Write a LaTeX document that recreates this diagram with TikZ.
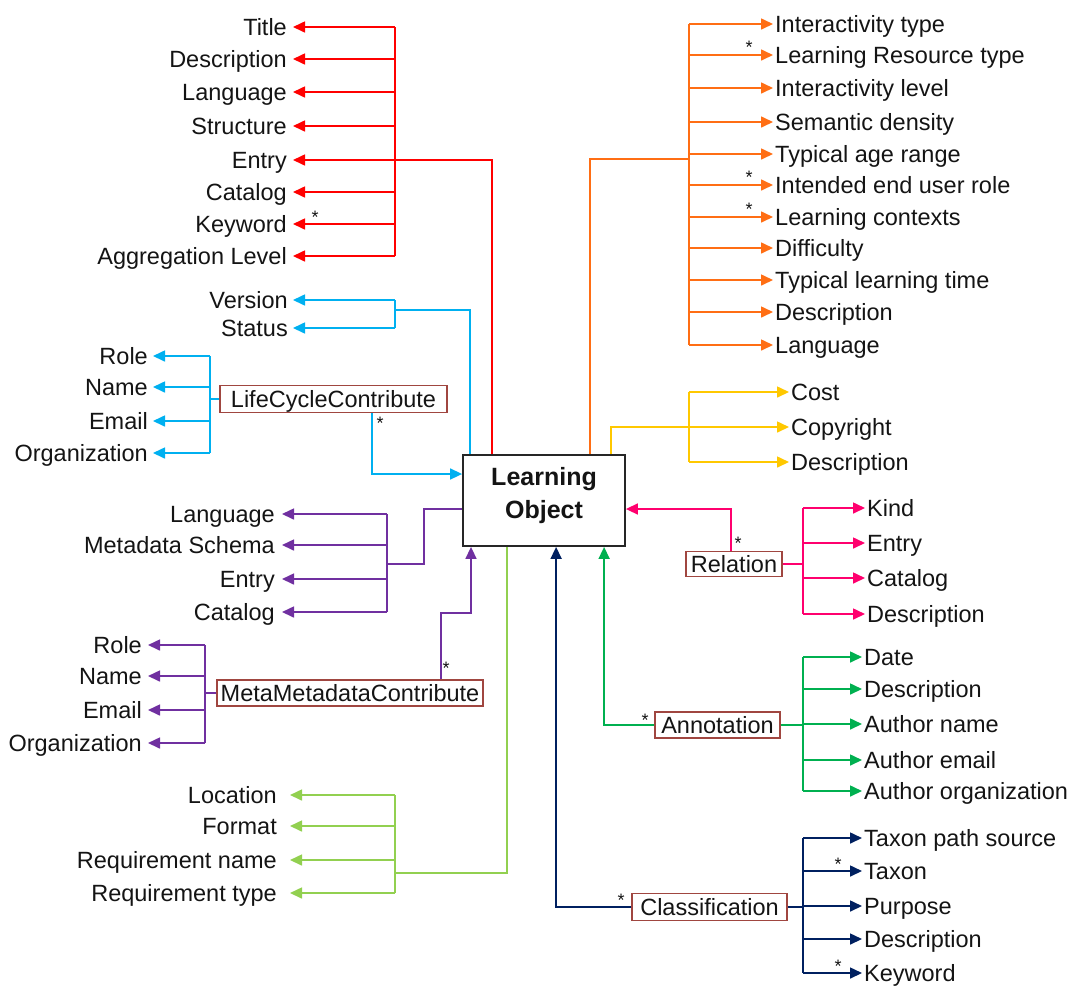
\documentclass[tikz,border=0pt]{standalone}
\usepackage{fontspec}
\setmainfont{Liberation Sans}
\usetikzlibrary{arrows.meta}
\definecolor{cRed}{RGB}{255,0,0}
\definecolor{cSky}{RGB}{0,176,240}
\definecolor{cOrange}{RGB}{255,110,20}
\definecolor{cGold}{RGB}{255,200,0}
\definecolor{cPink}{RGB}{255,0,110}
\definecolor{cGreen}{RGB}{0,176,80}
\definecolor{cNavy}{RGB}{0,32,96}
\definecolor{cPurple}{RGB}{112,48,160}
\definecolor{cLime}{RGB}{146,208,80}
\definecolor{cBox}{RGB}{160,70,64}
\definecolor{cText}{RGB}{20,20,20}
\newcommand\labelfont{\fontsize{23.5}{28}\selectfont}
\tikzset{
  wire/.style={line width=1.6pt},
  tip/.style={wire, -{Triangle[length=12pt,width=11pt]}},
  lab/.style={font=\labelfont, text=cText, inner ysep=0pt, text height=16.8pt, text depth=0pt},
  labl/.style={lab, anchor=east, inner xsep=#1},
  labl/.default=6pt,
  labr/.style={lab, anchor=west, inner xsep=2pt},
  classbox/.style={lab, draw=cBox, line width=1.5pt, inner xsep=0pt},
  mult/.style={font=\fontsize{18}{18}\selectfont, text=cText, inner sep=0pt, anchor=base},
}
\begin{document}
\begin{tikzpicture}[x=1pt,y=-1pt]
\useasboundingbox (0,0) rectangle (1075,986);

% central element
\node[draw=black!85, line width=1.8pt, minimum width=162pt, minimum height=91pt,
      label={[align=center, text=cText, yshift=5pt, font=\bfseries\fontsize{25}{32.5}\selectfont]center:{Learning\\Object}}]
  (lo) at (544,500.5) {};

% ---------- General (red) ----------
\coordinate (redbus) at (395,160);
\foreach \i/\t/\y in {1/Title/27,2/Description/59,3/Language/92,4/Structure/126,
                      5/Entry/160,6/Catalog/192,7/Keyword/224,8/Aggregation Level/256}{
  \node[labl] (gen\i) at (293,\y) {\t};
  \draw[tip,cRed] (redbus |- gen\i.east) -- (gen\i.east);
}
\draw[wire,cRed] (redbus |- gen1.east) -- (redbus |- gen8.east);
\draw[wire,cRed] ([xshift=30pt]lo.north west) |- (redbus);
\node[mult] (sKw) at (315,223.5) {*};

% ---------- Life cycle (sky blue) ----------
\coordinate (lcbus) at (395,310);
\foreach \i/\t/\y in {1/Version/300,2/Status/328}{
  \node[labl=5pt] (lc\i) at (293,\y) {\t};
  \draw[tip,cSky] (lcbus |- lc\i.east) -- (lc\i.east);
}
\draw[wire,cSky] (lcbus |- lc1.east) -- (lcbus |- lc2.east);
\draw[wire,cSky] ([xshift=8pt]lo.north west) |- (lcbus);

\node[classbox, minimum width=227pt, minimum height=27pt] (lcc) at (333.5,399) {LifeCycleContribute};
\coordinate (lccbus) at (210,399);
\foreach \i/\t/\y in {1/Role/356,2/Name/387,3/Email/421,4/Organization/453}{
  \node[labl=5pt] (lcp\i) at (153,\y) {\t};
  \draw[tip,cSky] (lccbus |- lcp\i.east) -- (lcp\i.east);
}
\draw[wire,cSky] (lccbus |- lcp1.east) -- (lccbus |- lcp4.east);
\draw[wire,cSky] (lcc.west) -- (lccbus);
\draw[tip,cSky] ([xshift=38.5pt]lcc.south) |- (lo.west |- 0,474);
\node[mult] (sLcc) at (380,429.5) {*};

% ---------- Meta-metadata (purple) ----------
\coordinate (metabus) at (387,564);
\foreach \i/\t/\y in {1/Language/514,2/Metadata Schema/545,3/Entry/579,4/Catalog/612}{
  \node[labl=7pt] (mm\i) at (282,\y) {\t};
  \draw[tip,cPurple] (metabus |- mm\i.east) -- (mm\i.east);
}
\draw[wire,cPurple] (metabus |- mm1.east) -- (metabus |- mm4.east);
\draw[wire,cPurple] (metabus) -| (424,509) -- (lo.west |- 0,509);

\node[classbox, minimum width=266pt, minimum height=26pt] (mmc) at (350,693) {MetaMetadataContribute};
\coordinate (mmcbus) at (205,693);
\foreach \i/\t/\y in {1/Role/645,2/Name/676,3/Email/710,4/Organization/743}{
  \node[labl=6pt] (mmp\i) at (148,\y) {\t};
  \draw[tip,cPurple] (mmcbus |- mmp\i.east) -- (mmp\i.east);
}
\draw[wire,cPurple] (mmcbus |- mmp1.east) -- (mmcbus |- mmp4.east);
\draw[wire,cPurple] (mmc.west) -- (mmcbus);
\draw[tip,cPurple] ([xshift=91pt]mmc.north) |- (471,613) -- (lo.south -| 471,0);
\node[mult] (sMmc) at (446,674.5) {*};

% ---------- Technical (light green) ----------
\coordinate (techbus) at (395,873);
\foreach \i/\t/\y in {1/Location/795,2/Format/826,3/Requirement name/860,4/Requirement type/893}{
  \node[labl=13pt] (tc\i) at (290,\y) {\t};
  \draw[tip,cLime] (techbus |- tc\i.east) -- (tc\i.east);
}
\draw[wire,cLime] (techbus |- tc1.east) -- (techbus |- tc4.east);
\draw[wire,cLime] (techbus) -| ([xshift=45pt]lo.south west);

% ---------- Educational (orange) ----------
\coordinate (edubus) at (689,159);
\foreach \i/\t/\y in {1/Interactivity type/24,2/Learning Resource type/55,3/Interactivity level/88,
                      4/Semantic density/122,5/Typical age range/154,6/Intended end user role/185,
                      7/Learning contexts/217,8/Difficulty/248,9/Typical learning time/280,
                      10/Description/312,11/Language/345}{
  \node[labr] (ed\i) at (773,\y) {\t};
  \draw[tip,cOrange] (edubus |- ed\i.west) -- (ed\i.west);
}
\draw[wire,cOrange] (edubus |- ed1.west) -- (edubus |- ed11.west);
\draw[wire,cOrange] ([xshift=128pt]lo.north west) |- (edubus);
\node[mult] (sLrt) at (749,53.5) {*};
\node[mult] (sIeur) at (749,183.5) {*};
\node[mult] (sLc) at (749,215.5) {*};

% ---------- Rights (gold) ----------
\coordinate (rightsbus) at (689,427);
\foreach \i/\t/\y in {1/Cost/392,2/Copyright/427,3/Description/462}{
  \node[labr] (rt\i) at (789,\y) {\t};
  \draw[tip,cGold] (rightsbus |- rt\i.west) -- (rt\i.west);
}
\draw[wire,cGold] (rightsbus |- rt1.west) -- (rightsbus |- rt3.west);
\draw[wire,cGold] ([xshift=149pt]lo.north west) |- (rightsbus);

% ---------- Relation (pink) ----------
\node[classbox, minimum width=96pt, minimum height=25pt] (rel) at (734,564) {Relation};
\coordinate (relbus) at (803,564);
\foreach \i/\t/\y in {1/Kind/508,2/Entry/543,3/Catalog/578,4/Description/614}{
  \node[labr] (rl\i) at (865,\y) {\t};
  \draw[tip,cPink] (relbus |- rl\i.west) -- (rl\i.west);
}
\draw[wire,cPink] (relbus |- rl1.west) -- (relbus |- rl4.west);
\draw[wire,cPink] (rel.east) -- (relbus);
\draw[tip,cPink] ([xshift=-3pt]rel.north) |- (lo.east |- 0,509);
\node[mult] (sRel) at (738,549.5) {*};

% ---------- Annotation (green) ----------
\node[classbox, minimum width=125pt, minimum height=26pt] (ann) at (717.5,725) {Annotation};
\coordinate (annbus) at (803,725);
\foreach \i/\t/\y in {1/Date/657,2/Description/689,3/Author name/724,4/Author email/760,5/Author organization/791}{
  \node[labr] (an\i) at (862,\y) {\t};
  \draw[tip,cGreen] (annbus |- an\i.west) -- (an\i.west);
}
\draw[wire,cGreen] (annbus |- an1.west) -- (annbus |- an5.west);
\draw[wire,cGreen] (ann.east) -- (annbus);
\draw[tip,cGreen] (ann.west) -| ([xshift=142pt]lo.south west);
\node[mult] (sAnn) at (645,726.5) {*};

% ---------- Classification (navy) ----------
\node[classbox, minimum width=155pt, minimum height=27pt] (cls) at (709.5,907) {Classification};
\coordinate (clsbus) at (803,907);
\foreach \i/\t/\y in {1/Taxon path source/838,2/Taxon/871,3/Purpose/906,4/Description/939,5/Keyword/973}{
  \node[labr] (cl\i) at (862,\y) {\t};
  \draw[tip,cNavy] (clsbus |- cl\i.west) -- (cl\i.west);
}
\draw[wire,cNavy] (clsbus |- cl1.west) -- (clsbus |- cl5.west);
\draw[wire,cNavy] (cls.east) -- (clsbus);
\draw[tip,cNavy] (cls.west) -| ([xshift=94pt]lo.south west);
\node[mult] (sCls) at (621,906.5) {*};
\node[mult] (sTax) at (838,870.5) {*};
\node[mult] (sCkw) at (838,972.5) {*};
\end{tikzpicture}
\end{document}
